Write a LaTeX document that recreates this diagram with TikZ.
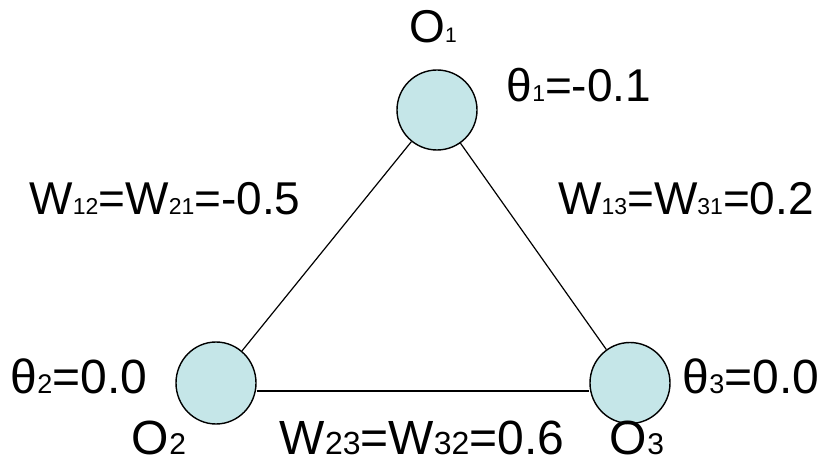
\documentclass[tikz,border=0pt]{standalone}
\usepackage{fontspec}
\setmainfont{Liberation Sans}
\usetikzlibrary{shapes.geometric}
\definecolor{nodeblue}{RGB}{197,230,232}
\newcommand{\lowidx}[2][23]{{\fontsize{#1}{#1}\selectfont #2}}
\tikzset{
    unit/.style={draw,line width=1.4pt,fill=nodeblue,ellipse,minimum width=80pt,minimum height=80pt,inner sep=0pt},
    link/.style={line width=1.2pt},
    lbl/.style={font=\fontsize{46}{46}\selectfont,inner sep=0pt,anchor=base},
    biglbl/.style={lbl,font=\fontsize{48}{48}\selectfont,text depth=0pt}
}

\begin{document}
\begin{tikzpicture}[x=1pt,y=-1pt]
            \useasboundingbox (0,0) rectangle (825,465);
            \node[unit] (o1) at (437,110) {};                        % Unit 1
            \node[unit,minimum height=82pt] (o2) at (216,383) {};    % Unit 2
            \node[unit,minimum height=81pt] (o3) at (630,383) {};    % Unit 3
            \draw[link] (o1)--(o2);
            \draw[link] (o1)--(o3);
            \draw[link] ([yshift=-8pt]o2.east)--([yshift=-8pt]o3.west);
            % Names of the units
            \node[lbl] (n1) at (433,43) {O\lowidx[21]{1}};
            \node[biglbl] (n2) at (159,454) {O\lowidx[30]{2}};
            \node[biglbl] (n3) at (637,454) {O\lowidx[30]{3}};
            % Thresholds
            \node[lbl] (t1) at (579,102) {θ\lowidx{1}=-0.1};
            \node[biglbl] (t2) at (79,393) {θ\lowidx[27]{2}=0.0};
            \node[biglbl] (t3) at (751,393) {θ\lowidx[27]{3}=0.0};
            % Weights
            \node[lbl] (w12) at (165,215) {W\lowidx{12}=W\lowidx{21}=-0.5};
            \node[lbl] (w13) at (686,215) {W\lowidx{13}=W\lowidx{31}=0.2};
            \node[biglbl] (w23) at (422,454) {W\lowidx[32]{23}=W\lowidx[32]{32}=0.6};
        \end{tikzpicture}
\end{document}
